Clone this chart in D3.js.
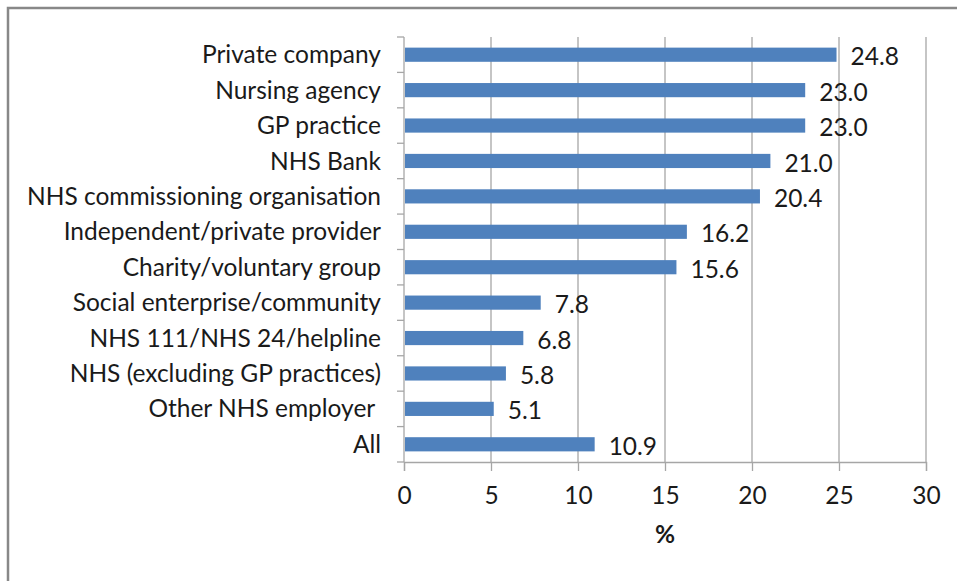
<!DOCTYPE html>
<html>
<head>
<meta charset="utf-8">
<script src="https://cdn.jsdelivr.net/npm/d3@7"></script>
<style>
body { margin: 0; background: #fff; }
svg text { font-family: Lato, "Open Sans", sans-serif; fill: #1a1a1a; white-space: pre; }
</style>
</head>
<body>
<div id="chart"></div>
<script>
var categories = ["Private company", "Nursing agency", "GP practice", "NHS Bank",
  "NHS commissioning organisation", "Independent/private provider",
  "Charity/voluntary group", "Social enterprise/community",
  "NHS 111/NHS 24/helpline", "NHS (excluding GP practices)",
  "Other NHS employer ", "All"];
var values = [24.8, 23.0, 23.0, 21.0, 20.4, 16.2, 15.6, 7.8, 6.8, 5.8, 5.1, 10.9];
var xTicks = [0, 5, 10, 15, 20, 25, 30];
var axisTitle = "%";

var margin = {top: 37, right: 31, bottom: 119, left: 404},
width = 957 - margin.left - margin.right,
height = 581 - margin.top - margin.bottom;

var fontSize = "24.5px";

var svg = d3.select("#chart").append("svg")
.attr("width", 957)
.attr("height", 581);

// outer frame (top and left edges only visible)
svg.append("path")
.attr("d", "M8,581 V8 H957")
.attr("fill", "none")
.attr("stroke", "#888")
.attr("stroke-width", 2.5);

var g = svg.append("g")
.attr("transform", "translate(" + margin.left + "," + margin.top + ")");

var x = d3.scaleLinear().domain([0, 30]).range([0, width]);
var y = d3.scaleBand().domain(categories).range([0, height]).paddingInner(0.6).paddingOuter(0.3);
var yb = d3.scaleBand().domain(categories).range([0, height]);

// gridlines
g.selectAll(".grid")
.data(xTicks.slice(1))
.enter().append("line")
.attr("class", "grid")
.attr("x1", d => x(d)).attr("x2", d => x(d))
.attr("y1", 0).attr("y2", height)
.attr("stroke", "#a6a6a6")
.attr("stroke-width", 1.3);

// x axis
var xAxis = d3.axisBottom(x).tickValues(xTicks).tickSize(9).tickPadding(16);
var xg = g.append("g")
.attr("transform", "translate(0," + height + ")")
.call(xAxis);
xg.select(".domain").attr("stroke", "#a6a6a6").attr("stroke-width", 1.3);
xg.selectAll(".tick line").attr("stroke", "#a6a6a6").attr("stroke-width", 1.3);
xg.selectAll(".tick text").style("font-size", fontSize).attr("fill", "#1a1a1a");

// y axis: ticks on band boundaries
g.append("line")
.attr("x1", 0).attr("x2", 0).attr("y1", 0).attr("y2", height)
.attr("stroke", "#a6a6a6").attr("stroke-width", 1.3);
g.selectAll(".ytick")
.data(d3.range(categories.length + 1))
.enter().append("line")
.attr("x1", -7).attr("x2", 0)
.attr("y1", d => d * yb.step()).attr("y2", d => d * yb.step())
.attr("stroke", "#a6a6a6").attr("stroke-width", 1.3);

g.selectAll(".ylabel")
.data(categories)
.enter().append("text")
.attr("x", -23)
.attr("y", d => yb(d) + yb.bandwidth() / 2)
.attr("dy", ".35em")
.attr("text-anchor", "end")
.style("font-size", fontSize)
.text(d => d);

// bars
g.selectAll(".bar")
.data(values)
.enter().append("rect")
.attr("x", x(0) + 1)
.attr("y", (d, i) => y(categories[i]))
.attr("width", d => x(d) - x(0))
.attr("height", y.bandwidth())
.attr("fill", "#4f81bd");

g.selectAll(".val")
.data(values)
.enter().append("text")
.attr("x", d => x(d) + 15)
.attr("y", (d, i) => yb(categories[i]) + yb.bandwidth() / 2 + 2)
.attr("dy", ".35em")
.style("font-size", fontSize)
.text(d => d.toFixed(1));

g.append("text")
.attr("x", width / 2)
.attr("y", height + 81)
.attr("text-anchor", "middle")
.style("font-size", fontSize)
.style("font-weight", "bold")
.text(axisTitle);
</script>
</body>
</html>
